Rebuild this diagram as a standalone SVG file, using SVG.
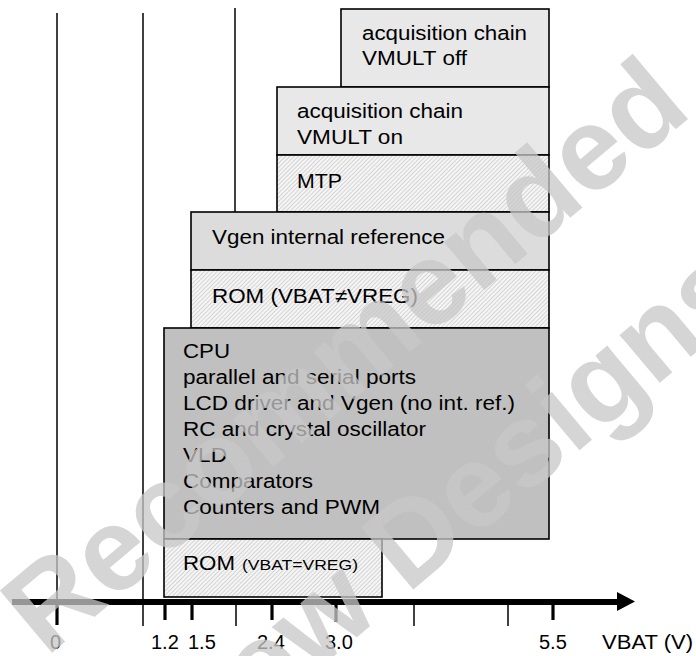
<svg xmlns="http://www.w3.org/2000/svg" width="696" height="656" viewBox="0 0 696 656">
<defs>
<pattern id="hatch" width="3" height="3" patternUnits="userSpaceOnUse" patternTransform="rotate(45)">
<rect width="3" height="3" fill="#f5f5f5"/>
<line x1="0.5" y1="0" x2="0.5" y2="3" stroke="#d4d4d4" stroke-width="1"/>
</pattern>
<style>
.box{stroke:#000;stroke-width:1.6}
.light{fill:#e8e8e8}
.mid{fill:#dcdcdc}
.dark{fill:#c0c0c0}
.hat{fill:url(#hatch)}
.t{font-family:"Liberation Sans",Arial,sans-serif;font-size:20px;fill:#000}
.s{font-size:15px}
.vl{stroke:#000;stroke-width:1.5;fill:none}
.tk{stroke:#000;stroke-width:3.2;fill:none}
.wm{font-family:"Liberation Sans",Arial,sans-serif;font-weight:bold;font-size:118px;fill:#c8c8c8;opacity:0.75}
</style>
</defs>
<g id="guides">
<line class="vl" x1="57" y1="13" x2="57" y2="602"/>
<line class="vl" x1="143" y1="13" x2="143" y2="626"/>
<line class="vl" x1="235" y1="8" x2="235" y2="212"/>
</g>
<g id="acq-off">
<rect class="box light" x="341" y="9" width="208" height="78"/>
<text class="t" x="362" y="40" textLength="165" lengthAdjust="spacingAndGlyphs">acquisition chain</text>
<text class="t" x="362" y="65" textLength="105" lengthAdjust="spacingAndGlyphs">VMULT off</text>
</g>
<g id="acq-on">
<rect class="box light" x="277" y="87" width="272" height="68"/>
<text class="t" x="297" y="118" textLength="166" lengthAdjust="spacingAndGlyphs">acquisition chain</text>
<text class="t" x="297" y="144" textLength="106" lengthAdjust="spacingAndGlyphs">VMULT on</text>
</g>
<g id="mtp">
<rect class="box hat" x="277" y="155" width="272" height="57"/>
<text class="t" x="297" y="188" textLength="45" lengthAdjust="spacingAndGlyphs">MTP</text>
</g>
<g id="vgen">
<rect class="box mid" x="191" y="212" width="358" height="58"/>
<text class="t" x="212" y="244" textLength="233" lengthAdjust="spacingAndGlyphs">Vgen internal reference</text>
</g>
<g id="rom-neq">
<rect class="box hat" x="191" y="270" width="358" height="58"/>
<text class="t" x="212" y="303" textLength="206" lengthAdjust="spacingAndGlyphs">ROM (VBAT≠VREG)</text>
</g>
<g id="cpu">
<rect class="box dark" x="164" y="328" width="385" height="211"/>
<text class="t" x="183" y="358" textLength="47" lengthAdjust="spacingAndGlyphs">CPU</text>
<text class="t" x="183" y="384" textLength="233" lengthAdjust="spacingAndGlyphs">parallel and serial ports</text>
<text class="t" x="183" y="410" textLength="332" lengthAdjust="spacingAndGlyphs">LCD driver and Vgen (no int. ref.)</text>
<text class="t" x="183" y="436" textLength="243" lengthAdjust="spacingAndGlyphs">RC and crystal oscillator</text>
<text class="t" x="183" y="462" textLength="44" lengthAdjust="spacingAndGlyphs">VLD</text>
<text class="t" x="183" y="488" textLength="130" lengthAdjust="spacingAndGlyphs">Comparators</text>
<text class="t" x="183" y="514" textLength="197" lengthAdjust="spacingAndGlyphs">Counters and PWM</text>
</g>
<g id="rom-eq">
<rect class="box hat" x="164" y="539" width="218" height="58"/>
<text class="t" x="183" y="570"><tspan textLength="52" lengthAdjust="spacingAndGlyphs">ROM</tspan><tspan class="s" x="242" textLength="116" lengthAdjust="spacingAndGlyphs">(VBAT=VREG)</tspan></text>
</g>
<g id="axis">
<line x1="12" y1="602" x2="618" y2="602" stroke="#000" stroke-width="6"/>
<polygon points="617,592 635,601.5 617,611" fill="#000"/>
<line class="tk" x1="57" y1="600" x2="57" y2="625"/>
<line class="tk" x1="165" y1="600" x2="165" y2="620"/>
<line class="tk" x1="192" y1="600" x2="192" y2="620"/>
<line class="vl" x1="236" y1="600" x2="236" y2="626"/>
<line class="tk" x1="272" y1="600" x2="272" y2="620"/>
<line class="tk" x1="336" y1="600" x2="336" y2="622"/>
<line class="vl" x1="414" y1="600" x2="414" y2="626"/>
<line class="vl" x1="508" y1="600" x2="508" y2="626"/>
<line class="tk" x1="553" y1="600" x2="553" y2="620"/>
<text class="t" x="50" y="649">0</text>
<text class="t" x="151" y="649">1.2</text>
<text class="t" x="188" y="649">1.5</text>
<text class="t" x="257" y="649">2.4</text>
<text class="t" x="325" y="649">3.0</text>
<text class="t" x="539" y="649">5.5</text>
<text class="t" x="602" y="649" textLength="91" lengthAdjust="spacingAndGlyphs">VBAT (V)</text>
</g>
<g id="watermark" transform="translate(40,660) rotate(-40)">
<text class="wm" x="6" y="2">Recommended</text>
<text class="wm" x="48" y="186">New Designs</text>
</g>
</svg>
